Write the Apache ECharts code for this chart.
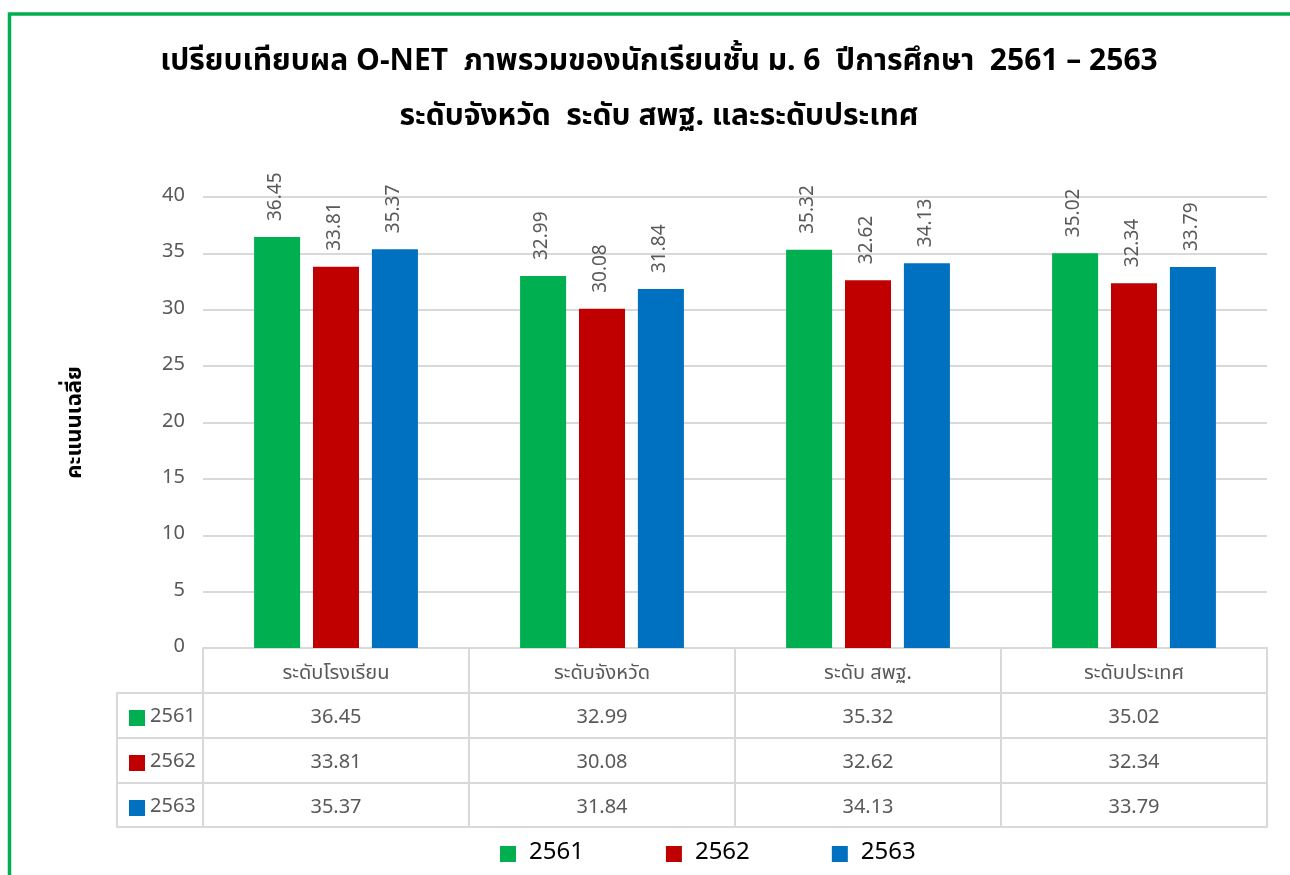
<!DOCTYPE html>
<html>
<head>
<meta charset="utf-8">
<script src="https://cdn.jsdelivr.net/npm/echarts@6/dist/echarts.min.js"></script>
<style>html,body{margin:0;padding:0;background:#fff;}#c{width:1290px;height:875px;}</style>
</head>
<body>
<div id="c"></div>
<script>
const categories = ['ระดับโรงเรียน', 'ระดับจังหวัด', 'ระดับ สพฐ.', 'ระดับประเทศ'];
const seriesNames = ['2561', '2562', '2563'];
const v2561 = [36.45, 32.99, 35.32, 35.02];
const v2562 = [33.81, 30.08, 32.62, 32.34];
const v2563 = [35.37, 31.84, 34.13, 33.79];
const yTicks = [0, 5, 10, 15, 20, 25, 30, 35, 40];
const colors = ['#00B050', '#C00000', '#0070C0'];

const FONT = '"Noto Sans Thai", "Leelawadee UI", Tahoma, "Open Sans", sans-serif';
const values = [v2561, v2562, v2563];
const grey = '#595959';
const lineC = '#D9D9D9';
const ROW = 45;

const chart = echarts.init(document.getElementById('c'), null, {renderer: 'canvas'});

const xAxes = [{
  type: 'category', gridIndex: 0, position: 'bottom', data: categories,
  axisLine: {show: true, lineStyle: {color: lineC, width: 2}},
  axisTick: {show: true, length: ROW * 4 - 1, lineStyle: {color: lineC, width: 2}},
  axisLabel: {color: grey, fontSize: 20, fontFamily: FONT, margin: 17}
}];
values.forEach((arr, i) => {
  xAxes.push({
    type: 'category', gridIndex: 0, position: 'bottom', offset: ROW * (i + 1),
    data: arr.map(v => v.toFixed(2)),
    axisLine: {show: true, lineStyle: {color: lineC, width: 2}},
    axisTick: {show: false},
    axisLabel: {color: grey, fontSize: 20, fontFamily: FONT, margin: 16}
  });
});
xAxes.push({
  type: 'category', gridIndex: 0, position: 'bottom', offset: ROW * 4 - 1,
  data: categories.map(() => ''),
  axisLine: {show: true, lineStyle: {color: lineC, width: 2}},
  axisTick: {show: false}, axisLabel: {show: false}
});

const series = seriesNames.map((name, i) => ({
  name: name, type: 'bar', xAxisIndex: 0, yAxisIndex: 0,
  data: values[i],
  barWidth: '17.3%', barGap: '28%',
  itemStyle: {color: colors[i]},
  label: {
    show: true, position: 'top', rotate: 90, distance: 16,
    align: 'left', verticalAlign: 'middle',
    color: grey, fontSize: 19, fontFamily: FONT,
    formatter: p => p.value.toFixed(2)
  }
}));

chart.setOption({
  animation: false,
  backgroundColor: '#fff',
  title: {
    text: 'เปรียบเทียบผล O-NET  ภาพรวมของนักเรียนชั้น ม. 6  ปีการศึกษา  2561 – 2563\nระดับจังหวัด  ระดับ สพฐ. และระดับประเทศ',
    left: 654, top: 31, textAlign: 'center',
    textStyle: {fontSize: 30, fontWeight: 'bold', color: '#000', fontFamily: FONT, lineHeight: 55}
  },
  grid: {left: 203, right: 23, top: 197, bottom: 227, containLabel: false},
  legend: [{
    data: seriesNames, top: 837, left: 495,
    itemWidth: 16, itemHeight: 16, itemGap: 82, icon: 'rect',
    textStyle: {fontSize: 24, color: '#000', fontFamily: FONT, padding: [0, 0, 0, 8]}
  }, {
    data: seriesNames, orient: 'vertical', left: 124, top: 703,
    itemWidth: 16, itemHeight: 16, itemGap: 25, icon: 'rect',
    selectedMode: false,
    textStyle: {fontSize: 20, color: grey, fontFamily: FONT, lineHeight: 20}
  }],
  xAxis: xAxes,
  yAxis: {
    type: 'value', min: 0, max: 40, interval: 5,
    name: 'คะแนนเฉลี่ย', nameLocation: 'middle', nameRotate: 90, nameGap: 115,
    nameTextStyle: {fontSize: 22, fontWeight: 'bold', color: '#000', fontFamily: FONT},
    axisLine: {show: false}, axisTick: {show: false},
    axisLabel: {color: grey, fontSize: 20, fontFamily: FONT, margin: 18,
      formatter: v => (yTicks.indexOf(v) >= 0 ? String(v) : '')},
    splitLine: {lineStyle: {color: lineC, width: 2}}
  },
  series: series,
  graphic: [
    {type: 'rect', silent: true, shape: {x: 9.5, y: 14, width: 1400, height: 1000},
     style: {fill: 'none', stroke: '#00B050', lineWidth: 3.5}},
    {type: 'rect', silent: true, shape: {x: 117, y: 648 + ROW, width: 86, height: ROW * 3 - 1},
     style: {fill: 'none', stroke: lineC, lineWidth: 2}},
    {type: 'line', silent: true, shape: {x1: 117, y1: 648 + ROW * 2, x2: 203, y2: 648 + ROW * 2},
     style: {stroke: lineC, lineWidth: 2}},
    {type: 'line', silent: true, shape: {x1: 117, y1: 648 + ROW * 3, x2: 203, y2: 648 + ROW * 3},
     style: {stroke: lineC, lineWidth: 2}}
  ]
});
</script>
</body>
</html>
